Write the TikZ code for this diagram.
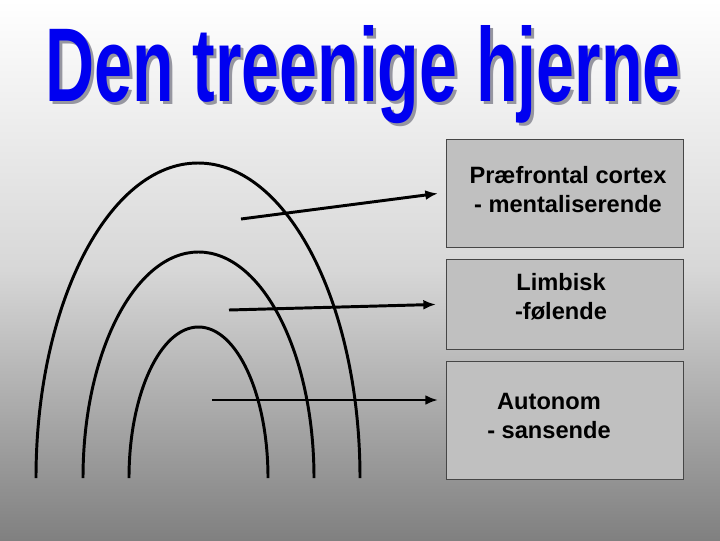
\documentclass[tikz,border=0pt]{standalone}
\usepackage{fontspec}
\setmainfont{Liberation Sans}
\definecolor{boxgray}{RGB}{192,192,192}
\definecolor{bordergray}{RGB}{70,70,70}
\definecolor{titleblue}{RGB}{0,0,240}
\definecolor{shadowgray}{RGB}{150,150,160}
\tikzset{
  boks/.style={draw=bordergray, line width=0.6pt, fill=boxgray,
    minimum width=5.925cm, inner sep=0pt},
  tekst/.style={font=\fontsize{16.8pt}{20.6pt}\selectfont\bfseries, align=center},
  bue/.style={line width=2.1pt},
  pil/.style={line width=2.1pt, -{Latex[length=9pt,width=7pt]}}
}
\usetikzlibrary{arrows.meta}
\newcommand{\titeltekst}{\resizebox{15.875cm}{1.9cm}{\bfseries Den treenige hjerne}}
\newcommand{\titel}{\makebox[0pt][l]{\hspace{0.075cm}\raisebox{-0.075cm}{\color{shadowgray}\titeltekst}}{\color{titleblue}\titeltekst}}
\begin{document}
\begin{tikzpicture}[x=0.025cm, y=-0.025cm]
\useasboundingbox (0,0) rectangle (720,540);
\shade[top color=white, bottom color={rgb,255:red,128;green,128;blue,128}, middle color={rgb,255:red,215;green,215;blue,215}] (0,0) rectangle (720,540);
% overskrift
\node[anchor=base west, inner sep=0pt] (titel) at (45,101) {\titel};
% de tre buer
\draw[bue] (36,478) arc[start angle=180, end angle=360, x radius=162, y radius=315];
\draw[bue] (83,478) arc[start angle=180, end angle=360, x radius=115.5, y radius=226];
\draw[bue] (129,478) arc[start angle=180, end angle=360, x radius=69.5, y radius=151];
% kasser
\node[boks, minimum height=2.7cm, anchor=north west] (praef) at (446,139) {};
\node[boks, minimum height=2.25cm, anchor=north west] (limb) at (446,259) {};
\node[boks, minimum height=2.95cm, anchor=north west] (auto) at (446,361) {};
\node[tekst] at (568,190) {Præfrontal cortex\\- mentaliserende};
\node[tekst] at (561,297) {Limbisk\\-følende};
\node[tekst] at (549,416) {Autonom\\- sansende};
% pile
\coordinate (s1) at (241,219);
\coordinate (s2) at (229,310);
\coordinate (s3) at (212,400);
\coordinate (e3) at (438,400);
\draw[pil] (s1) -- ([xshift=-0.2cm]praef.west);
\draw[pil] (s2) -- ([xshift=-0.25cm]limb.west);
\draw[pil] (s3) -- (e3);
\end{tikzpicture}
\end{document}
